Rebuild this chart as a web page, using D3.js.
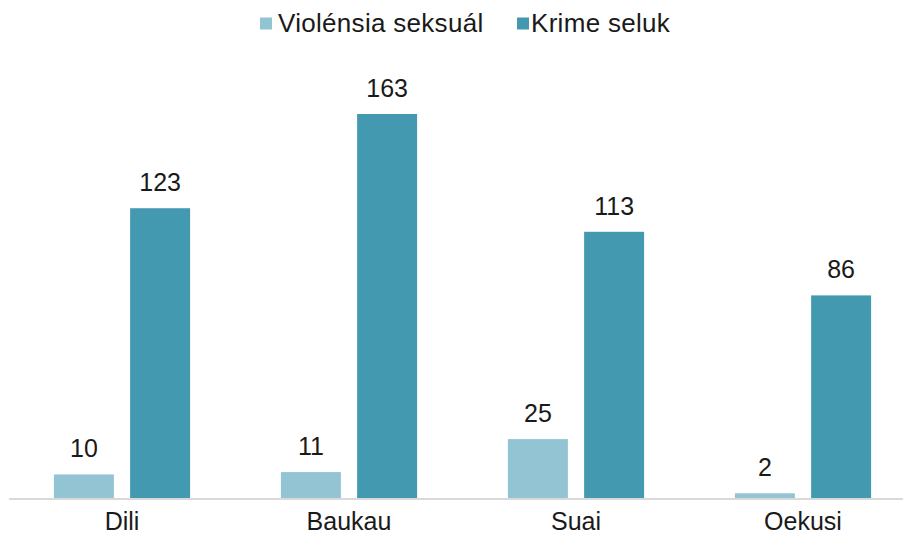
<!DOCTYPE html>
<html>
<head>
<meta charset="utf-8">
<script src="https://cdn.jsdelivr.net/npm/d3@7/dist/d3.min.js"></script>
<style>
  html, body { margin: 0; padding: 0; background: #fff; }
  svg { display: block; }
  text { font-family: "Liberation Sans", Arial, Helvetica, sans-serif; fill: #1a1a1a; }
</style>
</head>
<body>
<svg id="chart" width="904" height="537"></svg>
<script>
const categories = ["Dili", "Baukau", "Suai", "Oekusi"];
const seriesNames = ["Violénsia seksuál", "Krime seluk"];
const violensiaSeksual = [10, 11, 25, 2];
const krimeSeluk = [123, 163, 113, 86];
const colors = ["#92C4D4", "#4299B0"];

const data = categories.map((c, i) => ({ cat: c, values: [violensiaSeksual[i], krimeSeluk[i]] }));

const svg = d3.select("#chart");
const baseline = 498;

const x = d3.scaleBand().domain(categories).range([8.5, 916.5]).paddingInner(0.4).paddingOuter(0.2);
const x1 = d3.scaleBand().domain([0, 1]).range([0, x.bandwidth()]).paddingInner(0.2133).paddingOuter(0);
const y = d3.scaleLinear().domain([0, 163]).range([baseline, 114]);

const groups = svg.selectAll("g.grp").data(data).join("g")
  .attr("class", "grp")
  .attr("transform", d => `translate(${x(d.cat)},0)`);

groups.selectAll("rect").data(d => d.values.map((v, k) => ({ v, k }))).join("rect")
  .attr("x", d => x1(d.k))
  .attr("width", x1.bandwidth())
  .attr("y", d => y(d.v))
  .attr("height", d => baseline - y(d.v))
  .attr("fill", d => colors[d.k]);

groups.selectAll("text.val").data(d => d.values.map((v, k) => ({ v, k }))).join("text")
  .attr("class", "val")
  .attr("x", d => x1(d.k) + x1.bandwidth() / 2)
  .attr("y", d => y(d.v) - 17)
  .attr("text-anchor", "middle")
  .attr("font-size", 25)
  .text(d => d.v);

// axis line
svg.append("line")
  .attr("x1", 9).attr("x2", 903)
  .attr("y1", baseline + 1).attr("y2", baseline + 1)
  .attr("stroke", "#d9d9d9").attr("stroke-width", 2);

// category labels
const xAxis = d3.axisBottom(x).tickSize(0).tickPadding(0);
const ax = svg.append("g").attr("transform", `translate(0,${baseline + 2})`).call(xAxis);
ax.select(".domain").remove();
ax.selectAll("text")
  .attr("font-size", 25)
  .attr("dy", null)
  .attr("y", 30)
  .attr("fill", "#1a1a1a")
  .attr("font-family", "'Liberation Sans', Arial, sans-serif");

// legend
const legendItems = [
  { name: seriesNames[0], color: colors[0], sx: 260, tx: 278 },
  { name: seriesNames[1], color: colors[1], sx: 517, tx: 531 }
];
const lg = svg.append("g");
legendItems.forEach(it => {
  lg.append("rect").attr("x", it.sx).attr("y", 17.5).attr("width", 12).attr("height", 12).attr("fill", it.color);
  lg.append("text").attr("x", it.tx).attr("y", 31.5).attr("font-size", 26)
    .attr("letter-spacing", 0.3).text(it.name);
});
</script>
</body>
</html>
